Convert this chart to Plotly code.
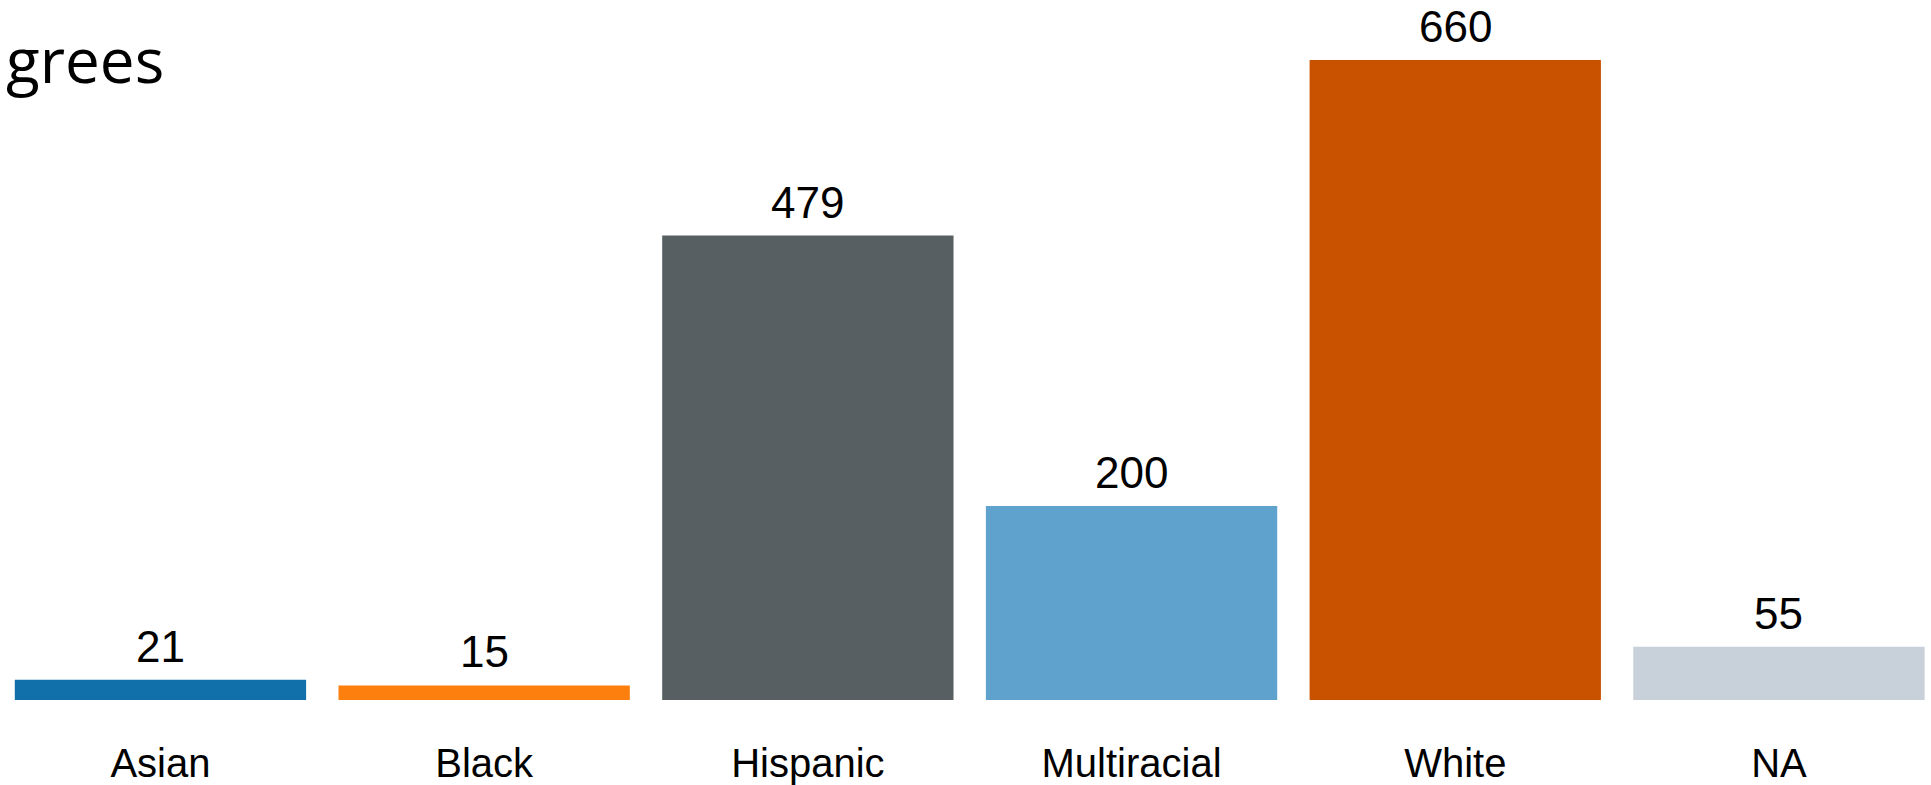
import plotly.graph_objects as go

categories = ["Asian", "Black", "Hispanic", "Multiracial", "White", "NA"]
values = [21, 15, 479, 200, 660, 55]
colors = ["#1170AA", "#FD7F0E", "#575F62", "#5FA2CE", "#C85200", "#C8D0D9"]
title_text = "grees"

fig = go.Figure(
    go.Bar(
        x=categories,
        y=values,
        marker=dict(color=colors, line=dict(width=0)),
        width=0.9,
        hoverinfo="x+y",
    )
)

for c, v in zip(categories, values):
    fig.add_annotation(
        x=c, y=v, xref="x", yref="y",
        text=str(v),
        showarrow=False,
        xanchor="center", yanchor="bottom",
        yshift=7,
        font=dict(family="Liberation Sans, Arial, sans-serif", size=44, color="#000000"),
    )

fig.add_annotation(
    text=title_text,
    xref="paper", yref="paper",
    x=0, y=1,
    xanchor="left", yanchor="top",
    xshift=4, yshift=-15,
    showarrow=False,
    font=dict(family="Open Sans, sans-serif", size=62, color="#000000"),
)

fig.update_layout(
    width=1931,
    height=785,
    margin=dict(l=0, r=0, t=0, b=85, autoexpand=False),
    plot_bgcolor="white",
    paper_bgcolor="white",
    showlegend=False,
    xaxis=dict(
        range=[-0.4957, 5.4697],
        automargin=False,
        showgrid=False,
        zeroline=False,
        showline=False,
        ticks="",
        ticklabelstandoff=36,
        tickfont=dict(family="Liberation Sans, Arial, sans-serif", size=40, color="#000000"),
    ),
    yaxis=dict(
        range=[0, 722],
        automargin=False,
        visible=False,
        showgrid=False,
        zeroline=False,
    ),
)

fig.write_html("out.html")
